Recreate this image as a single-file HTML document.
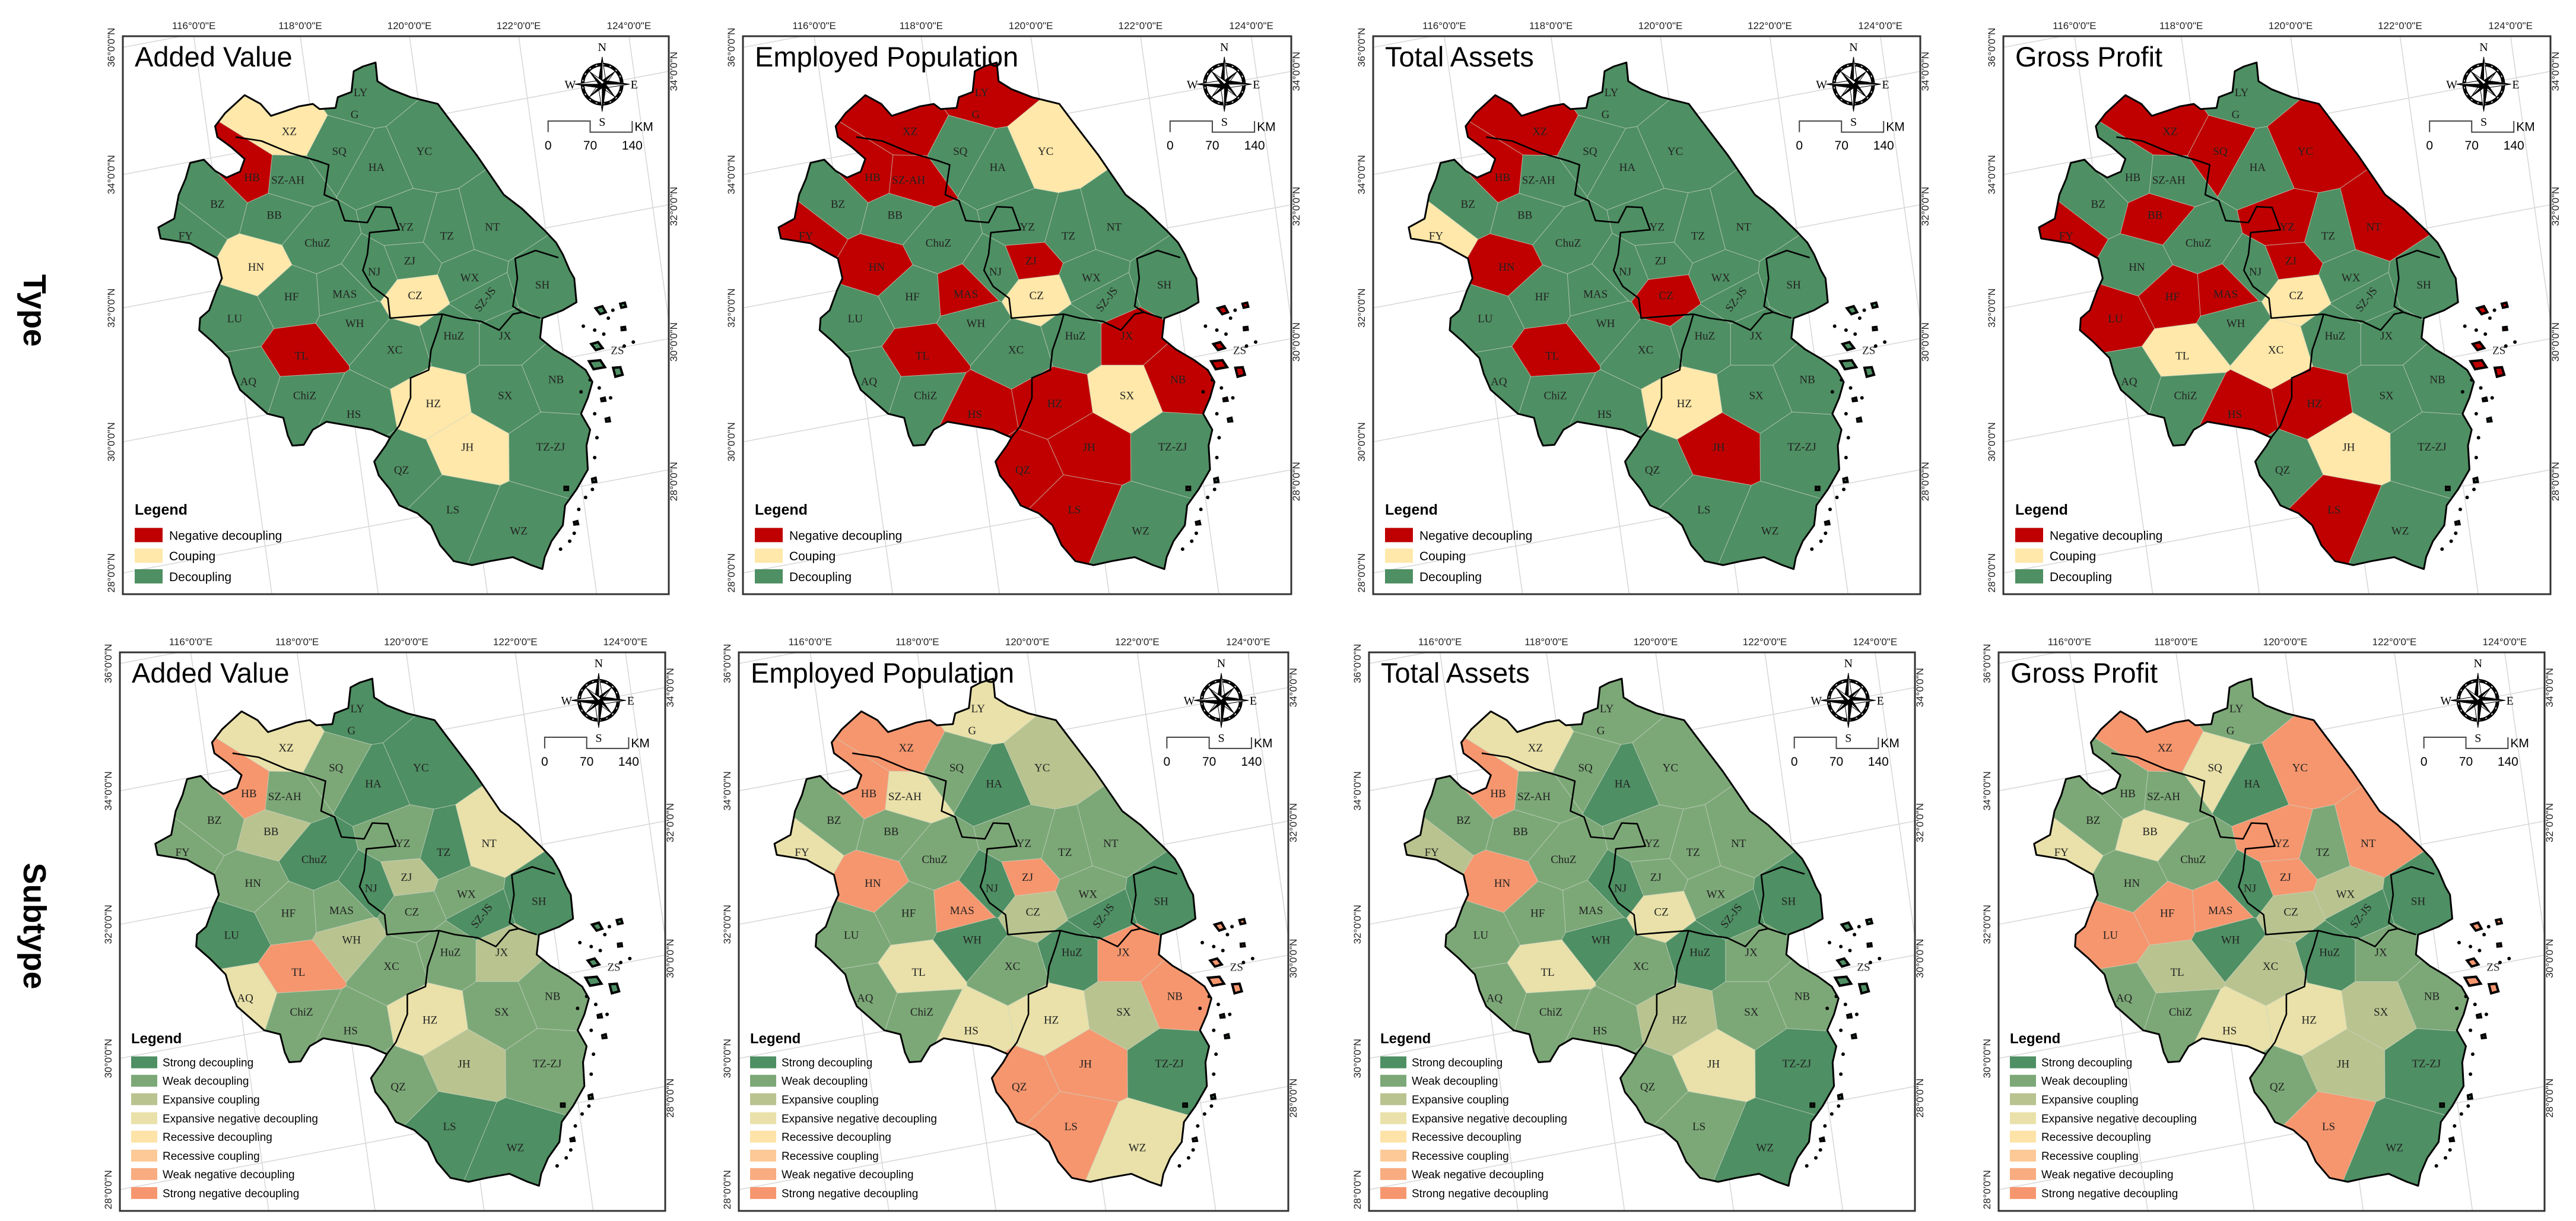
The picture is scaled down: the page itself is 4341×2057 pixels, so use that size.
<!DOCTYPE html>
<html><head><meta charset="utf-8"><style>
html,body{margin:0;padding:0;background:#fff;}
svg{display:block;}
</style></head><body>
<svg id="fig" xmlns="http://www.w3.org/2000/svg" width="4341" height="2057" viewBox="0 0 4341 2057"></svg>
<script>
const cities=['LY','XZ','SQ','HA','YC','HB','SZ-AH','BZ','BB','FY','ChuZ','YZ','TZ','NT','HN','ZJ','NJ','WX','SZ-JS','SH','HF','MAS','CZ','LU','WH','HuZ','JX','XC','TL','ZS','AQ','NB','ChiZ','SX','HZ','HS','JH','TZ-ZJ','QZ','LS','WZ'];
const typeAdded=['D','C','D','D','D','N','D','D','D','D','D','D','D','D','C','D','D','D','D','D','D','D','C','D','D','D','D','D','N','D','D','D','D','D','C','D','C','D','D','D','D'];
const typeEmployed=['N','N','D','D','C','N','N','D','D','N','D','D','D','D','N','N','D','D','D','D','D','N','C','D','D','D','N','D','N','N','D','N','D','C','N','N','N','D','N','N','D'];
const typeAssets=['D','N','D','D','D','N','D','D','D','C','D','D','D','D','N','D','D','D','D','D','D','D','N','D','D','D','D','D','N','D','D','D','D','D','C','D','N','D','D','D','D'];
const typeProfit=['D','N','N','D','N','D','D','D','N','N','D','N','D','N','D','N','D','D','D','D','N','N','C','N','D','D','D','C','C','N','D','D','D','D','N','N','C','D','D','N','D'];
const subAdded=['S','X','W','S','S','SN','W','W','E','W','S','W','S','X','W','E','S','W','S','S','W','W','W','S','E','W','E','W','SN','S','X','W','W','W','X','W','E','W','W','S','S'];
const subEmployed=['X','SN','W','S','E','SN','X','W','W','X','W','W','W','W','SN','SN','S','W','S','S','W','SN','E','W','S','S','SN','W','X','SN','W','SN','W','E','X','X','SN','S','SN','SN','X'];
const subAssets=['W','X','W','S','W','SN','W','W','W','E','W','W','W','W','SN','W','S','W','S','S','W','W','X','W','S','S','W','W','X','S','W','W','W','W','E','W','X','S','W','W','S'];
const subProfit=['W','SN','X','S','SN','W','W','W','X','X','W','SN','W','SN','W','SN','S','E','S','S','SN','SN','E','SN','S','S','W','E','E','SN','W','W','W','E','X','X','E','S','W','SN','S'];
const titles=['Added Value','Employed Population','Total Assets','Gross Profit'];
const typeLegend=['Negative decoupling','Couping','Decoupling'];
const typeCodes=['N','C','D'];
const subLegend=['Strong decoupling','Weak decoupling','Expansive coupling','Expansive negative decoupling','Recessive decoupling','Recessive coupling','Weak negative decoupling','Strong negative decoupling'];
const subCodes=['S','W','E','X','R','RC','WN','SN'];
const lonLabels=['116°0\'0"E','118°0\'0"E','120°0\'0"E','122°0\'0"E','124°0\'0"E'];
const latLeft=['36°0\'0"N','34°0\'0"N','32°0\'0"N','30°0\'0"N','28°0\'0"N'];
const latRight=['34°0\'0"N','32°0\'0"N','30°0\'0"N','28°0\'0"N'];

const COL={N:'#C00000',C:'#FFE8A9',D:'#4E8F63',S:'#4E8F63',W:'#7CA877',E:'#B9C38F',X:'#E9E1A9',R:'#FDE3A8',RC:'#FDC996',WN:'#F9AC80',SN:'#F6966E'};
const sites=[[795,232],[638,330],[748,380],[830,420],[935,380],[556,445],[635,452],[480,512],[605,540],[410,592],[700,610],[895,570],[985,592],[1085,570],[565,670],[903,655],[825,682],[1035,697],[1068,752],[1195,715],[643,745],[760,738],[915,742],[518,800],[782,812],[1000,843],[1113,843],[870,878],[665,893],[1360,880],[548,958],[1225,953],[672,993],[1113,993],[955,1013],[780,1040],[1030,1123],[1213,1122],[885,1180],[998,1280],[1143,1333]];
const outer=[[497,285],[540,240],[575,262],[598,292],[630,280],[660,268],[690,262],[705,275],[740,272],[745,245],[775,232],[780,180],[800,168],[828,158],[832,205],[860,225],[905,245],[965,262],[990,300],[1020,345],[1050,390],[1080,440],[1110,490],[1150,525],[1200,580],[1225,610],[1240,640],[1255,680],[1265,700],[1270,760],[1240,780],[1195,800],[1190,850],[1220,878],[1260,905],[1290,930],[1305,960],[1295,1000],[1280,1040],[1300,1080],[1292,1120],[1295,1180],[1270,1230],[1245,1270],[1240,1320],[1215,1360],[1200,1400],[1195,1430],[1170,1420],[1130,1400],[1080,1410],[1040,1420],[1000,1410],[970,1370],[950,1320],[920,1290],[880,1270],[860,1230],[835,1195],[825,1160],[850,1120],[860,1100],[820,1080],[760,1068],[720,1060],[690,1080],[670,1118],[645,1120],[635,1095],[625,1050],[590,1040],[560,1010],[530,980],[515,940],[505,900],[470,860],[440,830],[442,800],[462,780],[478,730],[490,700],[480,650],[420,612],[355,600],[350,572],[385,550],[395,490],[410,450],[420,410],[450,402],[475,430],[500,447],[530,432],[540,400],[510,370],[480,345],[475,318]];
const islandsRaw=[[[1300,770],[1330,760],[1345,790],[1320,800]],[[1290,860],[1320,850],[1340,880],[1310,890]],[[1280,900],[1330,895],[1350,930],[1300,940]],[[1340,915],[1372,912],[1382,950],[1350,960]],[[1360,760],[1380,755],[1385,775],[1365,780]],[[1320,1000],[1335,995],[1338,1010],[1322,1012]],[[1330,1050],[1345,1045],[1348,1062],[1332,1064]],[[1300,1200],[1315,1195],[1318,1215],[1302,1217]],[[1260,1310],[1275,1305],[1278,1320],[1262,1322]],[[1240,1220],[1255,1220],[1255,1235],[1240,1235]],[[1365,820],[1380,818],[1382,832],[1366,834]]];
const islands=islandsRaw.map(is=>{const cx=is.reduce((a,p)=>a+p[0],0)/is.length,cy=is.reduce((a,p)=>a+p[1],0)/is.length;return is.map(p=>[cx+(p[0]-cx)*0.5,cy+(p[1]-cy)*0.5]);});
const specks=[[1285,820],[1310,830],[1340,800],[1375,870],[1395,860],[1300,955],[1320,975],[1310,1040],[1315,1100],[1310,1150],[1290,1250],[1275,1280],[1265,1340],[1235,1380],[1350,780],[1330,840],[1280,985],[1305,1230],[1255,1360],[1345,1000]];
const borders=[[[520,345],[577,355],[640,385],[700,405],[725,415],[715,490],[745,505],[760,555],[810,560],[828,520],[862,522],[880,578],[815,585],[810,640],[800,680],[820,720],[855,750],[860,800],[915,795],[975,790]],[[975,790],[965,830],[950,880],[945,930],[905,950],[905,1000],[880,1070],[860,1100]],[[975,790],[1010,800],[1060,808],[1100,830],[1130,790],[1150,785],[1190,800]],[[1230,648],[1180,630],[1135,650],[1140,700],[1130,770],[1150,785]]];

const frames=[[207,61,920,940],[1252,61,924,940],[2314,61,922,940],[3376,61,922,940],[202,1099,919,941],[1245,1099,926,941],[2307,1099,920,941],[3368,1099,920,941]];
const panelData=[typeAdded,typeEmployed,typeAssets,typeProfit,subAdded,subEmployed,subAssets,subProfit];
const NS='http://www.w3.org/2000/svg';
const svg=document.getElementById('fig');
function mk(tag,attrs,parent){const e=document.createElementNS(NS,tag);for(const k in attrs)e.setAttribute(k,attrs[k]);(parent||svg).appendChild(e);return e;}

function clipHalf(poly,a,b){
  const nx=b[0]-a[0],ny=b[1]-a[1],mx=(a[0]+b[0])/2,my=(a[1]+b[1])/2;
  const f=p=>(p[0]-mx)*nx+(p[1]-my)*ny;
  const out=[];
  for(let i=0;i<poly.length;i++){
    const p=poly[i],q=poly[(i+1)%poly.length];
    const fp=f(p),fq=f(q);
    if(fp<=0)out.push(p);
    if((fp<0&&fq>0)||(fp>0&&fq<0)){const t=fp/(fp-fq);out.push([p[0]+t*(q[0]-p[0]),p[1]+t*(q[1]-p[1])]);}
  }
  return out;
}
const cells=sites.map((s,i)=>{let poly=[[150,50],[1550,50],[1550,1600],[150,1600]];sites.forEach((o,j)=>{if(j!==i)poly=clipHalf(poly,s,o);});return poly;});

const t1=mk('text',{x:0,y:0,transform:'translate(40,523) rotate(90)','font-family':'Liberation Sans, sans-serif','font-size':'54','font-weight':'bold','text-anchor':'middle',fill:'#000'});


t1.textContent='Type';
const t2=mk('text',{x:0,y:0,transform:'translate(40,1560) rotate(90)','font-family':'Liberation Sans, sans-serif','font-size':'54','font-weight':'bold','text-anchor':'middle',fill:'#000'});


t2.textContent='Subtype';

frames.forEach((f,pi)=>{
  const [fx,fy,fw,fh]=f;
  const P=(x,y)=>[fx+(x-272)/1201*fw, fy+(y-92)/1401*fh];
  const pts=arr=>arr.map(p=>P(p[0],p[1]).map(v=>v.toFixed(1)).join(',')).join(' ');
  const g=mk('g',{});
  
  
  const cid='fc'+pi, mid='mc'+pi;
  const defs=mk('defs',{},g);
  const cp=mk('clipPath',{id:cid},defs);
  mk('rect',{x:fx,y:fy,width:fw,height:fh},cp);
  const mp=mk('clipPath',{id:mid},defs);
  mk('polygon',{points:pts(outer)},mp);
  islands.forEach(is=>mk('polygon',{points:pts(is)},mp));
  const gr=mk('g',{'clip-path':'url(#'+cid+')',stroke:'#d9d9d9','stroke-width':'1.6',fill:'none'},g);
  
  
  [0.13,0.325,0.525,0.725,0.927].forEach(u=>mk('line',{x1:fx+u*fw,y1:fy,x2:fx+(u+0.143)*fw,y2:fy+fh},gr));
  [0.02,0.248,0.487,0.727,0.962].forEach(v=>mk('line',{x1:fx,y1:fy+v*fh,x2:fx+fw,y2:fy+(v-0.185)*fh},gr));
  const mg=mk('g',{'clip-path':'url(#'+mid+')'},g);
  const data=panelData[pi];
  cells.forEach((c,i)=>{
    const p=mk('polygon',{points:pts(c),fill:COL[data[i]],stroke:'#c9d3c4','stroke-width':'1',"stroke-opacity":'0.6'},mg);
    
    
  });
  const ob=mk('polygon',{points:pts(outer),fill:'none',stroke:'#000','stroke-width':'3','stroke-linejoin':'round'},g);
  
  
  islands.forEach(is=>{const e=mk('polygon',{points:pts(is),fill:'none',stroke:'#000','stroke-width':'4'},g);});
  specks.forEach(s=>{const [x,y]=P(s[0],s[1]);const e=mk('circle',{cx:x,cy:y,r:3,fill:'#000'},g);});
  borders.forEach(b=>{const e=mk('polyline',{points:pts(b),fill:'none',stroke:'#000','stroke-width':'2.6','stroke-linejoin':'round'},g);});
  cities.forEach((c,i)=>{
    const [x,y]=P(sites[i][0],sites[i][1]);
    const t=mk('text',{x:x,y:y+7,'font-family':'Liberation Serif, serif','font-size':'19','text-anchor':'middle',fill:'#222'},g);
    if(c==='SZ-JS')t.setAttribute('transform','rotate(-52 '+x+' '+y+')');
    
    
    t.textContent=c;
  });
  {const [x,y]=P(782,287);const t=mk('text',{x:x,y:y+7,'font-family':'Liberation Serif, serif','font-size':'19','text-anchor':'middle',fill:'#222'},g);t.textContent='G';}
  const fr=mk('rect',{x:fx,y:fy,width:fw,height:fh,fill:'none',stroke:'#333','stroke-width':'3'},g);
  
  
  const tt=mk('text',{x:fx+20,y:fy+51,'font-family':'Liberation Sans, sans-serif','font-size':'47',fill:'#000'},g);
  
  
  tt.textContent=titles[pi%4];
  [0.13,0.325,0.525,0.725,0.927].forEach((u,k)=>{const t=mk('text',{x:fx+u*fw,y:fy-12,'font-family':'Liberation Sans, sans-serif','font-size':'17','text-anchor':'middle',fill:'#222'},g);t.textContent=lonLabels[k];});
  [0.02,0.248,0.487,0.727,0.962].forEach((v,k)=>{const x=fx-14,y=fy+Math.max(v*fh,12);const t=mk('text',{x:0,y:0,transform:'translate('+x+','+y+') rotate(-90)','font-family':'Liberation Sans, sans-serif','font-size':'17','text-anchor':'middle',fill:'#222'},g);t.textContent=latLeft[k];});
  [0.063,0.305,0.548,0.798].forEach((v,k)=>{const x=fx+fw+14,y=fy+v*fh;const t=mk('text',{x:0,y:0,transform:'translate('+x+','+y+') rotate(-90)','font-family':'Liberation Sans, sans-serif','font-size':'17','text-anchor':'middle',fill:'#222'},g);t.textContent=latRight[k];});
  const cx=fx+0.878*fw, cy=fy+0.086*fh;
  const cg=mk('g',{},g);
  
  
  mk('circle',{cx:cx,cy:cy,r:33,fill:'none',stroke:'#000','stroke-width':'6'},cg);
  mk('circle',{cx:cx,cy:cy,r:33,fill:'none',stroke:'#fff','stroke-width':'1.5','stroke-dasharray':'3 9'},cg);
  for(let a=0;a<8;a++){
    const ang=a*Math.PI/4, L=(a%2===0)?46:30, w=(a%2===0)?7:5;
    const tx=cx+L*Math.sin(ang), ty=cy-L*Math.cos(ang);
    const lx=cx+w*Math.sin(ang-Math.PI/2), ly=cy-w*Math.cos(ang-Math.PI/2);
    const rx=cx+w*Math.sin(ang+Math.PI/2), ry=cy-w*Math.cos(ang+Math.PI/2);
    mk('polygon',{points:cx+','+cy+' '+lx+','+ly+' '+tx+','+ty,fill:'#000',stroke:'#000','stroke-width':'1'},cg);
    mk('polygon',{points:cx+','+cy+' '+rx+','+ry+' '+tx+','+ty,fill:'#fff',stroke:'#000','stroke-width':'1'},cg);
  }
  [['N',0,-56],['S',0,70],['W',-54,7],['E',54,7]].forEach(d=>{const t=mk('text',{x:cx+d[1],y:cy+d[2],'font-family':'Liberation Serif, serif','font-size':'20','text-anchor':'middle',fill:'#000'},cg);t.textContent=d[0];});
  const sx0=fx+0.779*fw, sx1=fx+0.856*fw, sx2=fx+0.933*fw, sy0=fy+0.152*fh, sy1=fy+0.172*fh;
  const sb=mk('g',{},g);
  
  
  mk('path',{d:'M'+sx0+','+sy1+' V'+sy0+' H'+sx1+' V'+sy1+' H'+sx2+' V'+sy0,fill:'none',stroke:'#444','stroke-width':'2'},sb);
  [['0',sx0],['70',sx1],['140',sx2]].forEach(d=>{const t=mk('text',{x:d[1],y:fy+0.203*fh,'font-family':'Liberation Sans, sans-serif','font-size':'21','text-anchor':'middle',fill:'#000'},sb);t.textContent=d[0];});
  {const t=mk('text',{x:sx2+4,y:sy1-2,'font-family':'Liberation Sans, sans-serif','font-size':'21',fill:'#000'},sb);t.textContent='KM';}
  const lg=mk('g',{},g);
  
  
  if(pi<4){
    const h=mk('text',{x:fx+20,y:fy+0.848*fh+9,'font-family':'Liberation Sans, sans-serif','font-size':'25','font-weight':'bold',fill:'#000'},lg);h.textContent='Legend';
    [0.894,0.931,0.968].forEach((v,k)=>{
      const yy=fy+v*fh;
      const r=mk('rect',{x:fx+20,y:yy-12,width:47,height:24,fill:COL[typeCodes[k]]},lg);
      
      
      const t=mk('text',{x:fx+78,y:yy+8,'font-family':'Liberation Sans, sans-serif','font-size':'21',fill:'#000'},lg);
      
      
      t.textContent=typeLegend[k];
    });
  } else {
    const h=mk('text',{x:fx+19,y:fy+0.69*fh+9,'font-family':'Liberation Sans, sans-serif','font-size':'24','font-weight':'bold',fill:'#000'},lg);h.textContent='Legend';
    [0.734,0.767,0.80,0.834,0.867,0.901,0.934,0.968].forEach((v,k)=>{
      const yy=fy+v*fh;
      const r=mk('rect',{x:fx+19,y:yy-10,width:44,height:20,fill:COL[subCodes[k]]},lg);
      
      
      const t=mk('text',{x:fx+72,y:yy+7,'font-family':'Liberation Sans, sans-serif','font-size':'19',fill:'#000'},lg);
      
      
      t.textContent=subLegend[k];
    });
  }
});
</script>
</body></html>
